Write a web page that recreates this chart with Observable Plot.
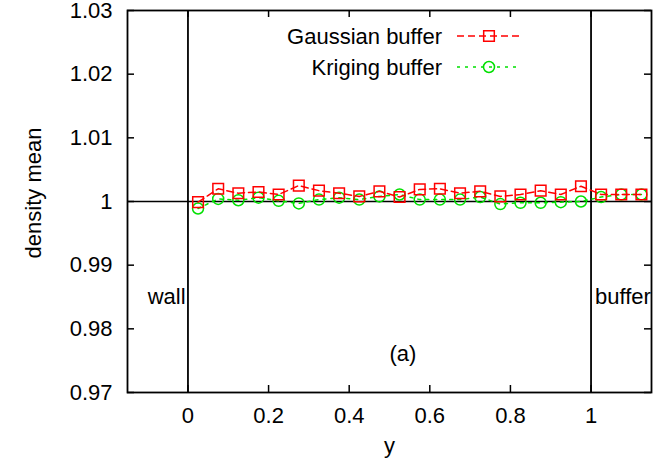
<!DOCTYPE html>
<html><head><meta charset="utf-8">
<script src="https://cdn.jsdelivr.net/npm/d3@7"></script>
<script src="https://cdn.jsdelivr.net/npm/@observablehq/plot@0.6"></script>
<style>
body{margin:0;background:#fff;}
#wrap{position:relative;width:661px;height:465px;font-family:"Liberation Sans",Arial,sans-serif;}
#wrap svg{display:block;}
#legend{position:absolute;left:0;top:0;}
</style></head><body><div id="wrap"></div>
<script>
const positions = [0.025,0.075,0.125,0.175,0.225,0.275,0.325,0.375,0.425,0.475,0.525,0.575,0.625,0.675,0.725,0.775,0.825,0.875,0.925,0.975,1.025,1.075,1.125];
const gaussian = [0.9999,1.0020,1.0013,1.0015,1.0011,1.0025,1.0017,1.0013,1.0008,1.0016,1.0007,1.0019,1.0020,1.0013,1.0016,1.0008,1.0011,1.0017,1.0011,1.0024,1.0011,1.0011,1.0011];
const kriging = [0.9989,1.0004,1.0002,1.0006,1.0001,0.9997,1.0003,1.0006,1.0003,1.0008,1.0011,1.0003,1.0003,1.0003,1.0007,0.9996,0.9998,0.9998,0.9999,1.0000,1.0007,1.0011,1.0011];
const xTicks = [0,0.2,0.4,0.6,0.8,1];
const yTicks = [0.97,0.98,0.99,1,1.01,1.02,1.03];
const xTickLabels = ["0","0.2","0.4","0.6","0.8","1"];
const yTickLabels = ["0.97","0.98","0.99","1","1.01","1.02","1.03"];
const xDomain = [-0.15,1.15];
const yDomain = [0.97,1.03];
const boundaries = [0,1];
const reference = [1];
const annotations = [
  {text:"wall", x:-0.1, y:0.985},
  {text:"buffer", x:1.01, y:0.985},
  {text:"(a)", x:0.5, y:0.976}
];
const xTitle = "y";
const yTitle = "density mean";
const seriesNames = ["Gaussian buffer","Kriging buffer"];
const seriesColors = ["#ff0000","#00e000"];
const seriesDash = ["7,4","3,5"];
const seriesSymbols = ["square","circle"];

const W = 661, H = 465;
const mL = 127, mR = 10, mT = 10, mB = 73;
const fw = W - mL - mR, fh = H - mT - mB;
const tick = 7;
const fs = 22;

const gData = positions.map((x,i)=>({x, v:gaussian[i]}));
const kData = positions.map((x,i)=>({x, v:kriging[i]}));

const plot = Plot.plot({
  width: W, height: H,
  marginLeft: mL, marginRight: mR, marginTop: mT, marginBottom: mB,
  style: {fontFamily: "Liberation Sans, Arial, sans-serif", fontSize: fs + "px", background: "white", color: "black"},
  x: {domain: xDomain, ticks: xTicks, tickSize: 0, tickPadding: 15, label: null, tickFormat: (d) => xTickLabels[xTicks.indexOf(d)]},
  y: {domain: yDomain, ticks: yTicks, tickSize: 0, tickPadding: 15, label: null, tickFormat: (d) => yTickLabels[yTicks.indexOf(d)]},
  marks: [
    Plot.ruleY(reference, {stroke: "black", strokeWidth: 1.6}),
    Plot.ruleX(boundaries, {stroke: "black", strokeWidth: 1.8}),
    Plot.ruleX(xTicks, {y1: yDomain[1], y2: yDomain[0], insetTop: fh - tick, stroke: "black", strokeWidth: 1.5}),
    Plot.ruleX(xTicks, {y1: yDomain[1], y2: yDomain[0], insetBottom: fh - tick, stroke: "black", strokeWidth: 1.5}),
    Plot.ruleY(yTicks, {x1: xDomain[0], x2: xDomain[1], insetRight: fw - tick, stroke: "black", strokeWidth: 1.5}),
    Plot.ruleY(yTicks, {x1: xDomain[0], x2: xDomain[1], insetLeft: fw - tick, stroke: "black", strokeWidth: 1.5}),
    Plot.line(kData, {x: "x", y: "v", stroke: seriesColors[1], strokeWidth: 1.5, strokeDasharray: seriesDash[1]}),
    Plot.dot(kData, {x: "x", y: "v", stroke: seriesColors[1], strokeWidth: 1.5, r: 5.5, symbol: seriesSymbols[1], fill: "none"}),
    Plot.line(gData, {x: "x", y: "v", stroke: seriesColors[0], strokeWidth: 1.5, strokeDasharray: seriesDash[0]}),
    Plot.dot(gData, {x: "x", y: "v", stroke: seriesColors[0], strokeWidth: 1.5, r: 6, symbol: seriesSymbols[0], fill: "none"}),
    Plot.text(annotations, {x: "x", y: "y", text: "text", textAnchor: "start", fill: "black"}),
    Plot.text([xTitle], {frameAnchor: "bottom", dy: 60, fill: "black"}),
    Plot.frame({stroke: "black", strokeWidth: 1.8})
  ]
});
const wrap = document.getElementById("wrap");
wrap.appendChild(plot);

// overlay: y-axis title and legend
const leg = d3.select(wrap).append("svg").attr("id","legend").attr("width", W).attr("height", H)
  .style("font-family","Liberation Sans, Arial, sans-serif").style("font-size", fs + "px");
leg.append("text").attr("transform", "translate(33,193) rotate(-90)").attr("text-anchor","middle")
  .attr("dy","0.35em").attr("fill","black").text(yTitle);
const lx = 442, ly0 = 36, lstep = 31, sx0 = 457, sx1 = 521, smid = 489;
seriesNames.forEach((name, i) => {
  const y = ly0 + i * lstep;
  leg.append("text").attr("x", lx).attr("y", y).attr("dy","0.35em").attr("text-anchor","end").attr("fill","black").text(name);
  leg.append("line").attr("x1", sx0).attr("x2", sx1).attr("y1", y).attr("y2", y)
    .attr("stroke", seriesColors[i]).attr("stroke-width",1.5).attr("stroke-dasharray", seriesDash[i]);
  const sym = seriesSymbols[i] === "square" ? d3.symbolSquare : d3.symbolCircle;
  const size = seriesSymbols[i] === "square" ? Math.PI*36 : Math.PI*5.5*5.5;
  leg.append("path").attr("d", d3.symbol(sym, size)()).attr("transform", `translate(${smid},${y})`)
    .attr("fill","none").attr("stroke", seriesColors[i]).attr("stroke-width",1.5);
});
</script></body></html>
